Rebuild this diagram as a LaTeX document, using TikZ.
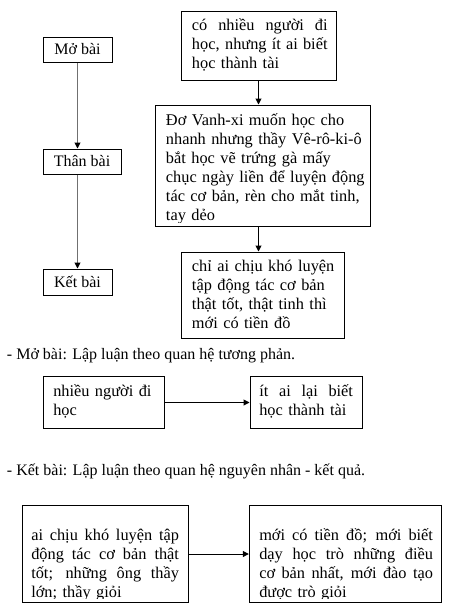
\documentclass[tikz,border=0pt]{standalone}
\usepackage{fontspec}
\setmainfont{Liberation Serif}
\usetikzlibrary{arrows.meta}
\tikzset{
  box/.style={draw=black, line width=0.75pt, rectangle, inner sep=0pt},
  lbl/.style={inner sep=0pt, anchor=base west, align=left, font=\fontsize{12.25pt}{14.3pt}\selectfont},
  hdr/.style={inner sep=0pt, anchor=base west, font=\fontsize{12pt}{14.3pt}\selectfont},
  ctr/.style={font=\fontsize{12pt}{14.3pt}\selectfont},
  arr/.style={line width=0.75pt, -{Triangle[length=4.5pt,width=4.5pt]}},
  garr/.style={line width=0.75pt, draw={rgb,255:red,112;green,112;blue,112}, -{Triangle[length=4.5pt,width=4.5pt,black]}},
}
\newcommand{\jl}[2]{\leavevmode\hbox to #1{\spaceskip=0.25em plus 1fil\relax #2}}
\begin{document}
\begin{tikzpicture}[x=0.75pt,y=-0.75pt]
\useasboundingbox[fill=white] (0,0) rectangle (463,615);
% left column
\node[box,ctr,minimum width=51.75pt,minimum height=18.75pt] (mo) at (77.5,49.5) {Mở bài};
\node[box,ctr,minimum width=58.5pt,minimum height=18.75pt] (than) at (82,161.5) {Thân bài};
\node[box,ctr,minimum width=51.75pt,minimum height=19.5pt] (ket) at (77.5,282) {Kết bài};
\draw[garr] (mo.south) -- (mo.south |- than.north);
\draw[garr] (mo.south |- than.south) -- (mo.south |- ket.north);
% right column
\node[box,minimum width=116.25pt,minimum height=51.75pt] (b1) at (258.5,45.5) {};
\node[lbl,text width=101.7pt] (t1) at (191.7,30) {\jl{101.7pt}{có nhiều người đi}\\\jl{101.7pt}{học, nhưng ít ai biết}\\học thành tài};
\node[box,minimum width=161.25pt,minimum height=90.75pt] (b2) at (262.5,165.5) {};
\begin{scope}
\clip (155,105) rectangle (370,222);
\node[lbl,text width=155pt] (t2) at (165.7,125) {Đơ Vanh-xi muốn học cho\\nhanh nhưng thầy Vê-rô-ki-ô\\bắt học vẽ trứng gà mấy\\chục ngày liền để luyện động\\tác cơ bản, rèn cho mắt tinh,\\tay dẻo};
\end{scope}
\node[box,minimum width=122.25pt,minimum height=64.5pt] (b3) at (262.5,295) {};
\node[lbl,text width=115pt] (t3) at (191.7,271.7) {chỉ ai chịu khó luyện\\tập động tác cơ bản\\thật tốt, thật tinh thì\\mới có tiền đồ};
\draw[arr] (b1.south) -- (b1.south |- b2.north);
\draw[arr] (b1.south |- b2.south) -- (b1.south |- b3.north);
% section 1
\node[hdr] (h1) at (6.7,359.3) {- Mở bài: Lập luận theo quan hệ tương phản.};
\node[box,minimum width=90.75pt,minimum height=38.7pt] (b4) at (103.5,402.5) {};
\node[lbl,text width=80pt] (t4) at (53,396) {nhiều người đi\\học};
\node[box,minimum width=84.2pt,minimum height=38.7pt] (b5) at (306.15,402.5) {};
\node[lbl,text width=70.3pt] (t5) at (259,396) {\jl{70.3pt}{ít ai lại biết}\\học thành tài};
\draw[arr] (b4.east) -- (b5.west);
% section 2
\node[hdr] (h2) at (6.7,475) {- Kết bài: Lập luận theo quan hệ nguyên nhân - kết quả.};
\node[box,minimum width=124.5pt,minimum height=72.45pt] (b6) at (105.3,554) {};
\node[box,minimum width=144pt,minimum height=72.45pt] (b7) at (345.3,554) {};
\begin{scope}
\clip (22.3,505.7) rectangle (441.3,598.3);
\node[lbl,text width=110.8pt] (t6) at (31,540) {\jl{110.8pt}{ai chịu khó luyện tập}\\\jl{110.8pt}{động tác cơ bản thật}\\\jl{110.8pt}{tốt; những ông thầy}\\lớn; thầy giỏi};
\node[lbl,text width=130.3pt] (t7) at (259,540) {\jl{130.3pt}{mới có tiền đồ; mới biết}\\\jl{130.3pt}{dạy học trò những điều}\\\jl{130.3pt}{cơ bản nhất, mới đào tạo}\\được trò giỏi};
\end{scope}
\draw[arr] (b6.east) -- (b7.west);
\end{tikzpicture}
\end{document}
